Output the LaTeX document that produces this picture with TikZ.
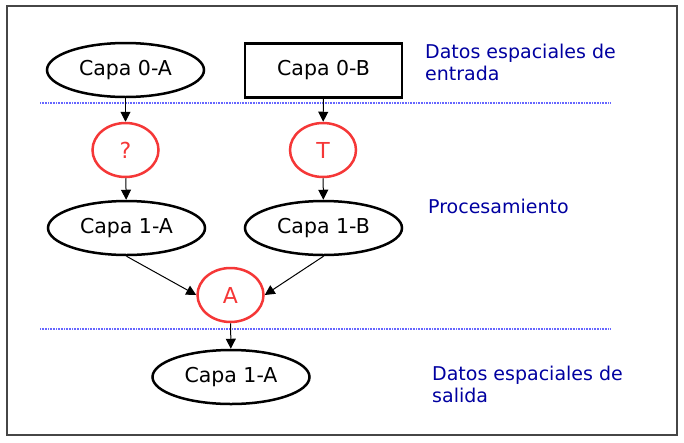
\documentclass[tikz,border=0pt]{standalone}
\usepackage{fontspec}
\setmainfont{DejaVu Sans}
\usetikzlibrary{shapes.geometric,arrows.meta}
\definecolor{etiq}{RGB}{0,0,160}
\definecolor{proc}{RGB}{245,55,55}
\definecolor{marco}{RGB}{70,70,70}
\begin{document}
\begin{tikzpicture}[x=1pt,y=-1pt,
  >={Triangle[length=10pt,width=10pt]},
  capa/.style={draw,ellipse,line width=2.5pt,minimum width=157pt,minimum height=54pt,inner sep=0pt,font=\fontsize{20.5}{24}\selectfont},
  capabox/.style={draw,rectangle,line width=2.5pt,minimum width=157pt,minimum height=54pt,inner sep=0pt,font=\fontsize{20.5}{24}\selectfont},
  oper/.style={draw=proc,text=proc,ellipse,line width=2.5pt,minimum width=66pt,minimum height=54pt,inner sep=0pt,font=\fontsize{22}{24}\selectfont},
  nota/.style={text=etiq,inner sep=0pt,align=left,font=\fontsize{19}{22}\selectfont},
  sep/.style={draw=blue!60,line width=1.5pt,dash pattern=on 0.8pt off 0.8pt}]
\useasboundingbox (0,0) rectangle (684,442);
\draw[marco,line width=1.5pt] (7,6) rectangle (677,435);

% capas de entrada
\node[capa] (c0a) at (125.5,70) {Capa 0-A};
\node[capabox] (c0b) at (323.5,70.5) {Capa 0-B};
\draw[sep] (40,103) -- (611,103);

% procesos
\node[oper] (q) at (125.5,150) {?};
\node[oper] (t) at (323,150) {T};
\node[capa] (c1a) at (126.5,228) {Capa 1-A};
\node[capa] (c1b) at (323.5,228) {Capa 1-B};
\node[oper] (a) at (230.5,295) {A};
\draw[sep] (40,329) -- (611,329);

% salida
\node[capa] (res) at (231,377) {Capa 1-A};

\draw[->,line width=1pt] (c0a) -- (q);
\draw[->,line width=1pt] (c0b) -- (t);
\draw[->,line width=1pt] (q) -- (c1a);
\draw[->,line width=1pt] (t) -- (c1b);
\draw[->,line width=1pt] (c1a.south) -- (a.west);
\draw[->,line width=1pt] (c1b.south) -- (a.east);
\draw[->,line width=1pt] (a) -- (res);

\node[nota,anchor=north west] (n1) at (425,43.5) {Datos espaciales de\\entrada};
\node[nota,anchor=base west] (n2) at (428,213) {Procesamiento};
\node[nota,anchor=north west] (n3) at (432,366) {Datos espaciales de\\salida};
\end{tikzpicture}
\end{document}
